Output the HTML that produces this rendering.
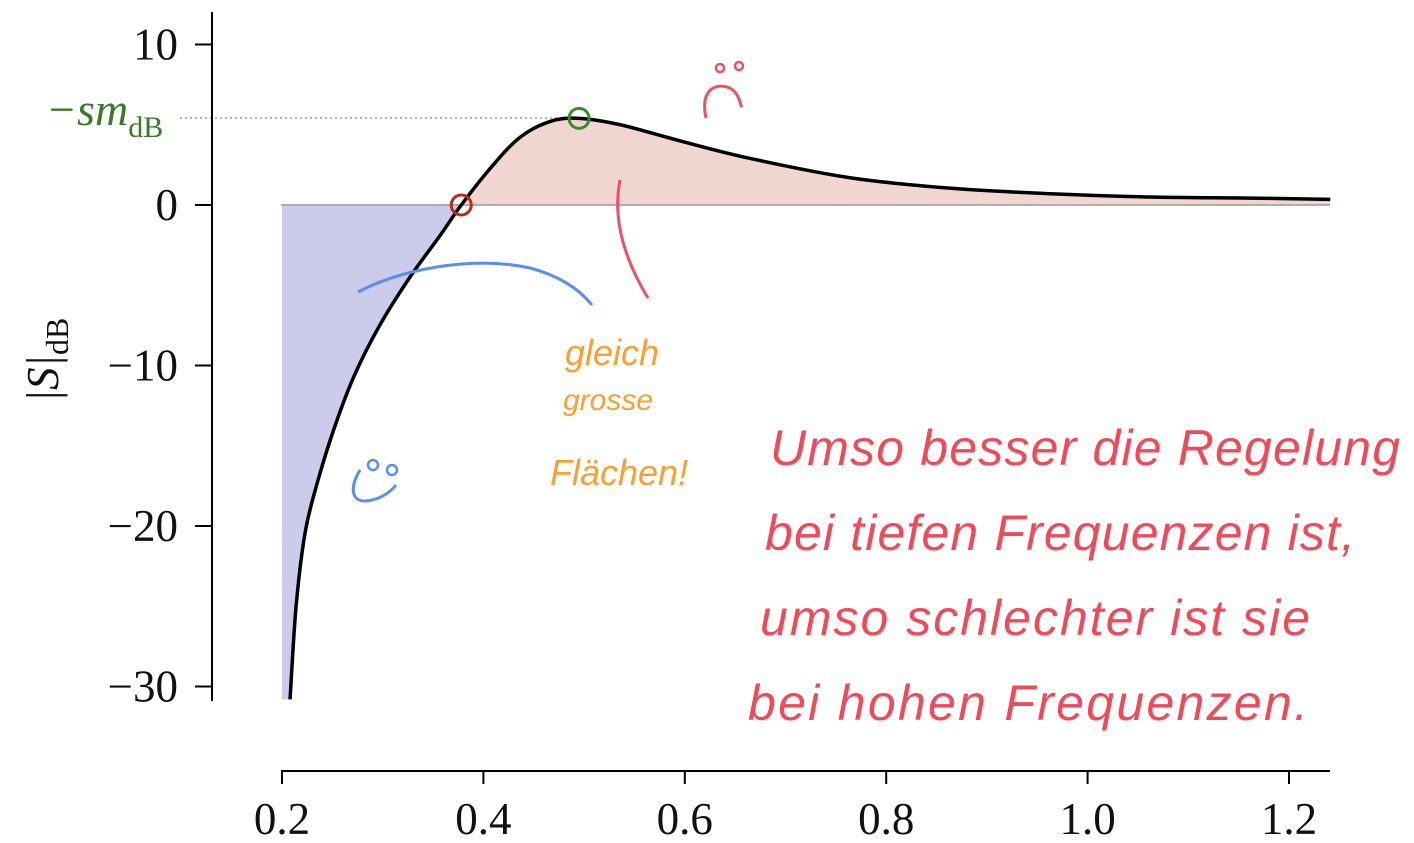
<!DOCTYPE html>
<html><head><meta charset="utf-8"><style>
html,body{margin:0;padding:0;background:#fff;}
svg{display:block;}
.tk{font-family:"Liberation Serif",serif;font-size:45px;fill:#111;}
.hw{font-family:"Liberation Sans",sans-serif;font-style:italic;font-weight:300;}
</style></head><body>
<svg id="chart" width="1414" height="843" viewBox="0 0 1414 843">
<g id="fills"></g>
<line x1="281" y1="205" x2="1330" y2="205" stroke="#999" stroke-width="1.5"/>
<line x1="180" y1="118" x2="579" y2="118" stroke="#888" stroke-width="1.3" stroke-dasharray="2,3"/>
<g id="curve"></g>
<g id="yaxis"></g>
<g id="xaxis"></g>
<text x="58" y="360" class="tk" transform="rotate(-90 58 360)" text-anchor="middle" font-size="48"><tspan font-style="italic">|S|</tspan><tspan font-size="32" dy="10">dB</tspan></text>
<text x="46" y="125" class="tk" style="fill:#3a7a2a;font-style:italic;font-size:46px">−s<tspan>m</tspan><tspan font-size="30" dy="12" font-style="normal">dB</tspan></text>
<path d="M358,292 C400,270 470,255 530,268 C560,276 580,290 592,305" fill="none" stroke="#5a8ef5" stroke-width="3"/>
<path d="M360,470 C348,490 352,505 372,500 C385,497 392,490 396,485" fill="none" stroke="#5a8ef5" stroke-width="3"/>
<circle cx="373" cy="465" r="5" fill="none" stroke="#5a8ef5" stroke-width="2.5"/>
<circle cx="392" cy="470" r="5" fill="none" stroke="#5a8ef5" stroke-width="2.5"/>
<path d="M620,180 C612,220 625,260 648,298" fill="none" stroke="#f05060" stroke-width="3"/>
<path d="M706,118 C700,90 715,82 730,88 C742,95 740,110 742,105" fill="none" stroke="#f05060" stroke-width="3"/>
<circle cx="720" cy="68" r="4" fill="none" stroke="#f05060" stroke-width="2.5"/>
<circle cx="739" cy="66" r="4" fill="none" stroke="#f05060" stroke-width="2.5"/>
<g class="hw" fill="#f8a030" font-size="36">
<text x="565" y="365">gleich</text>
<text x="563" y="410" font-size="30">grosse</text>
<text x="550" y="485">Flächen!</text>
</g>
<g class="hw" fill="#f04a5a" font-size="50">
<text x="770" y="465" textLength="630">Umso besser die Regelung</text>
<text x="765" y="550" textLength="590">bei tiefen Frequenzen ist,</text>
<text x="760" y="635" textLength="550">umso schlechter ist sie</text>
<text x="748" y="720" textLength="560">bei hohen Frequenzen.</text>
</g>
</svg>
<script>
const freqs=[0.208,0.214,0.223,0.236,0.253,0.272,0.297,0.327,0.357,0.378,0.407,0.436,0.466,0.495,0.536,0.595,0.665,0.764,0.863,0.963,1.062,1.161,1.241];
const magDb=[-30.8,-25,-20.4,-17.1,-13.7,-10.6,-7.5,-4.5,-1.9,0,2.3,4.2,5.2,5.4,5.0,4.0,2.9,1.7,1.05,0.7,0.5,0.43,0.35];
const yTicks=[10,0,-10,-20,-30];
const yTickLabels=["10","0","−10","−20","−30"];
const xTicks=[0.2,0.4,0.6,0.8,1.0,1.2];
const xTickLabels=["0.2","0.4","0.6","0.8","1.0","1.2"];
const crossing={f:0.378,db:0};
const peak={f:0.495,db:5.4};
const NS="http://www.w3.org/2000/svg";
const X=f=>282+(f-0.2)*1007;
const Y=d=>205-d*16.05;
function mk(t,a,p){const e=document.createElementNS(NS,t);for(const k in a)e.setAttribute(k,a[k]);p.appendChild(e);return e;}
const pts=freqs.map((f,i)=>[X(f),Y(magDb[i])]);
function smooth(p){let d="M"+p[0][0]+","+p[0][1];for(let i=0;i<p.length-1;i++){const p0=p[i-1]||p[i],p1=p[i],p2=p[i+1],p3=p[i+2]||p2;d+=" C"+(p1[0]+(p2[0]-p0[0])/6)+","+(p1[1]+(p2[1]-p0[1])/6)+" "+(p2[0]-(p3[0]-p1[0])/6)+","+(p2[1]-(p3[1]-p1[1])/6)+" "+p2[0]+","+p2[1];}return d;}
const ci=freqs.findIndex(f=>f>=crossing.f);
const neg=pts.slice(0,ci+1), pos=pts.slice(ci);
const fills=document.getElementById('fills');
const nf=mk('path',{d:"M"+X(0.2)+","+Y(0)+" L"+X(0.2)+","+pts[0][1]+" "+smooth(neg).replace(/^M/,"L")+" Z",fill:"#ccccea"},fills);


const pf=mk('path',{d:smooth(pos)+" L"+pts[pts.length-1][0]+","+Y(0)+" L"+X(crossing.f)+","+Y(0)+" Z",fill:"#f0d5d1"},fills);


const cg=document.getElementById('curve');
const cl=mk('path',{d:smooth(pts),fill:"none",stroke:"#000","stroke-width":3.5},cg);


const c1=mk('circle',{cx:X(crossing.f),cy:Y(crossing.db),r:10,fill:"none",stroke:"#b03020","stroke-width":3},cg);


const c2=mk('circle',{cx:X(peak.f),cy:Y(peak.db),r:10,fill:"none",stroke:"#3a8a30","stroke-width":3},cg);


const ya=document.getElementById('yaxis');
const yl=mk('line',{x1:212,y1:12,x2:212,y2:701,stroke:"#000","stroke-width":2},ya);


yTicks.forEach((v,i)=>{mk('line',{x1:195,y1:Y(v),x2:212,y2:Y(v),stroke:"#000","stroke-width":2},ya);
const t=mk('text',{x:178,y:Y(v)+15,"text-anchor":"end",class:"tk"},ya);t.textContent=yTickLabels[i];

});
const xa=document.getElementById('xaxis');
const xl=mk('line',{x1:281,y1:771,x2:1330,y2:771,stroke:"#000","stroke-width":2},xa);


xTicks.forEach((v,i)=>{mk('line',{x1:X(v),y1:771,x2:X(v),y2:784,stroke:"#000","stroke-width":2},xa);
const t=mk('text',{x:X(v),y:834,"text-anchor":"middle",class:"tk"},xa);t.textContent=xTickLabels[i];

});
</script>
</body></html>
